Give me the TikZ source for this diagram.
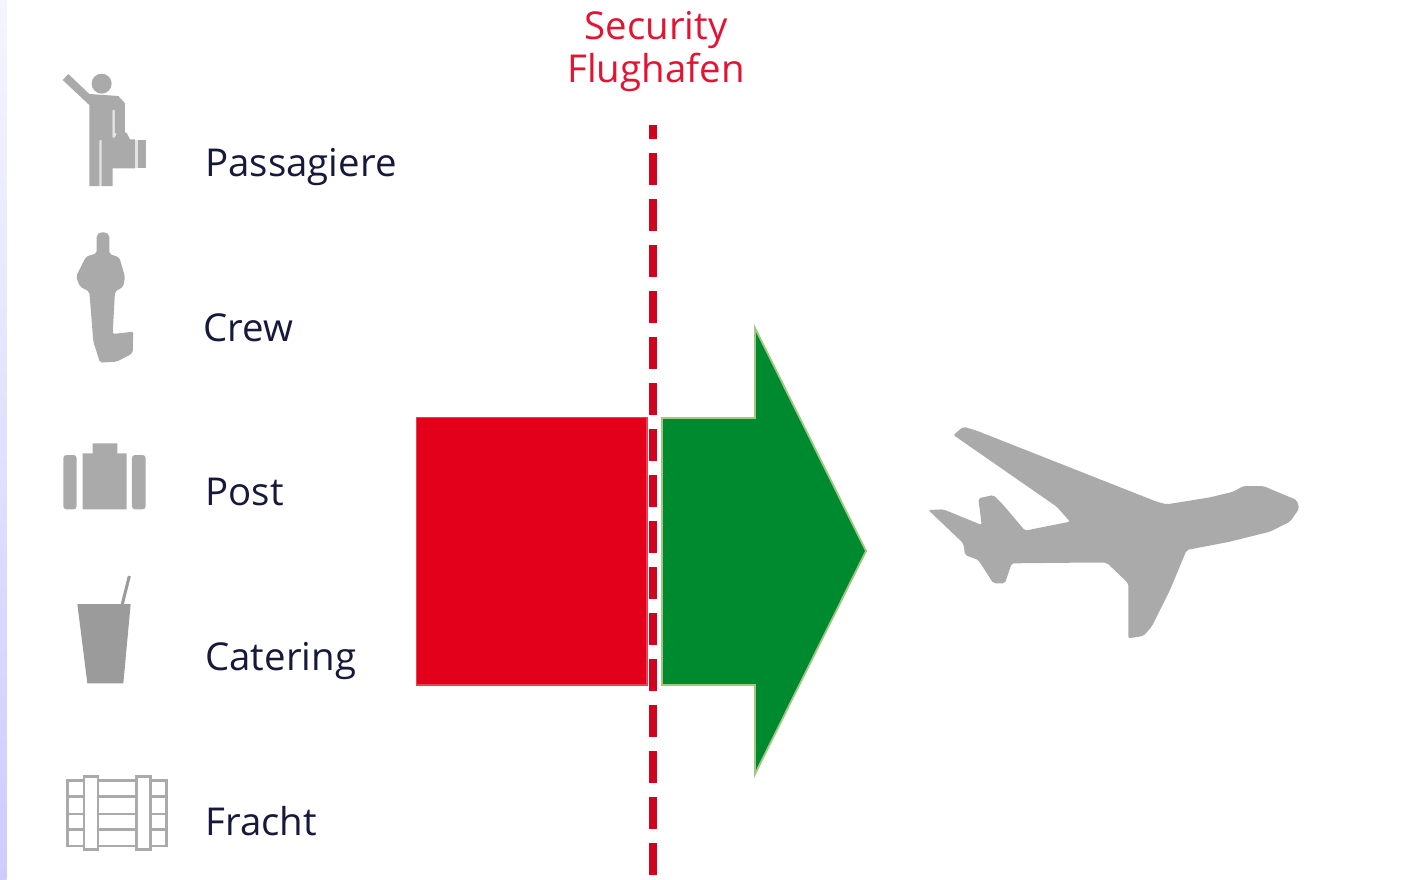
\documentclass[tikz,border=0pt]{standalone}
\usepackage{fontspec}
\setmainfont{Open Sans}
\definecolor{iconGrey}{RGB}{170,170,170}
\definecolor{gapGrey}{RGB}{228,228,228}
\definecolor{cupGrey}{RGB}{155,155,155}
\definecolor{labelNavy}{RGB}{22,24,60}
\definecolor{secRed}{RGB}{226,20,50}
\definecolor{dashRed}{RGB}{208,4,30}
\definecolor{boxRed}{RGB}{226,0,26}
\definecolor{boxGreen}{RGB}{0,138,48}
\definecolor{edgeGreen}{RGB}{160,200,130}
\tikzset{
  label/.style = {anchor = base west, inner sep = 0, text = labelNavy, font = \fontsize{19.2}{22}\selectfont},
  icon/.style = {fill = iconGrey, draw = none}
}
\begin{document}
\begin{tikzpicture}[x = .5pt, y = -.5pt]
      \useasboundingbox (0,0) rectangle (1402,879);
      \shade[top color = white!90!blue!40, bottom color = blue!20!white] (0,0) rectangle (6.5,879);

      % labels
      \node[label] (passagiere) at (205,176) {Passagiere};
      \node[label] (crew) at (203,341) {Crew};
      \node[label] (post) at (205,505) {Post};
      \node[label] (catering) at (205,670) {Catering};
      \node[label] (fracht) at (205,835) {Fracht};
      \node[align = center, inner sep = 0, text = secRed, font = \fontsize{19.2}{21.5}\selectfont] (security) at (656,52) {Security\\Flughafen};

      % passenger
      \begin{scope}[shift = {(0,50)}, scale = 1/3]
        \fill[gapGrey] (298,262) rectangle (305,408);
        \fill[gapGrey] (338,180) rectangle (345,262);
        \fill[gapGrey] (405,270) rectangle (415,355);
        \fill[icon] (305,101) circle (30);
        \fill[icon] (188,90) -- (205,72) -- (268,132) -- (355,138) -- (375,160) -- (375,250) -- (345,250) -- (345,180) -- (338,180) -- (338,270) -- (298,270) -- (298,408) -- (268,408) -- (268,165) -- cycle;
        \fill[icon] (305,262) -- (345,262) -- (350,248) -- (380,248) -- (390,268) -- (405,268) -- (405,355) -- (338,355) -- (338,408) -- (305,408) -- cycle;
        \fill[icon] (415,270) rectangle (437,355);
      \end{scope}

      % crew
      \begin{scope}[shift = {(0,50)}, scale = 1/3]
        \fill[icon, rounded corners = 1pt] (290,555) -- (300,547) -- (318,547) -- (328,555) -- (328,612) -- (358,622) -- (375,680) -- (370,710) -- (345,725) -- (338,852) -- (400,845) -- (398,910) -- (350,935) -- (300,938) -- (280,875) -- (268,725) -- (240,710) -- (228,680) -- (258,620) -- (290,610) -- cycle;
      \end{scope}

      % bag
      \begin{scope}[shift = {(0,420)}, scale = 1/3]
        \fill[icon] (278,100) -- (278,70) -- (352,70) -- (352,100) -- (380,100) -- (380,268) -- (248,268) -- (248,100) -- cycle;
        \fill[icon, rounded corners = 1.5pt] (230,105) -- (230,268) -- (190,268) -- (190,105) -- cycle;
        \fill[icon, rounded corners = 1.5pt] (396,105) -- (437,105) -- (437,268) -- (396,268) -- cycle;
      \end{scope}

      % cup
      \begin{scope}[shift = {(0,420)}, scale = 1/3]
        \fill[cupGrey] (232,552) -- (392,552) -- (370,790) -- (262,790) -- cycle;
        \draw[cupGrey, line width = 1.5pt] (367,552) -- (388,468);
      \end{scope}

      % crate
      \begin{scope}[shift = {(0,420)}, scale = 1/3, iconGrey, line width = 1.3pt]
        \draw (203,1082) rectangle (500,1278);
        \draw (203,1130) -- (500,1130);
        \draw (203,1182) -- (500,1182);
        \draw (203,1228) -- (500,1228);
        \draw[fill = white] (252,1070) rectangle (294,1288);
        \draw[fill = white] (410,1070) rectangle (452,1288);
      \end{scope}

      % red block and green arrow
      \draw[boxRed!75!white, fill = boxRed, line width = .9pt] (416.5,417.5) rectangle (647,685);
      \draw[edgeGreen, fill = boxGreen, line width = .9pt] (662,418) -- (755,418) -- (755,328) -- (866,551) -- (755,774) -- (755,685) -- (662,685) -- cycle;

      % security line
      \coordinate (linetop) at (653,125);
      \coordinate (linebot) at (653,879);
      \draw[dashRed, line width = 4.2pt, dash pattern = on 16pt off 7pt, dash phase = 9pt] (linetop) -- (linebot);

      % plane
      \begin{scope}[shift = {(910,410)}, scale = 1/3]
        \fill[icon, rounded corners = 1pt] (130,75) -- (160,50) -- (200,62) -- (740,275) -- (770,283) -- (900,262) -- (970,245) -- (1000,228) -- (1060,228) -- (1100,245) -- (1160,270) -- (1168,295) -- (1140,335) -- (1080,365) -- (960,395) -- (830,420) -- (780,540) -- (725,650) -- (700,678) -- (655,685) -- (655,520) -- (590,458) -- (500,458) -- (305,460) -- (295,490) -- (285,520) -- (250,520) -- (205,450) -- (165,435) -- (160,400) -- (55,300) -- (100,298) -- (215,345) -- (205,265) -- (250,255) -- (280,285) -- (345,362) -- (480,335) -- (440,290) -- cycle;
      \end{scope}
    \end{tikzpicture}
\end{document}
